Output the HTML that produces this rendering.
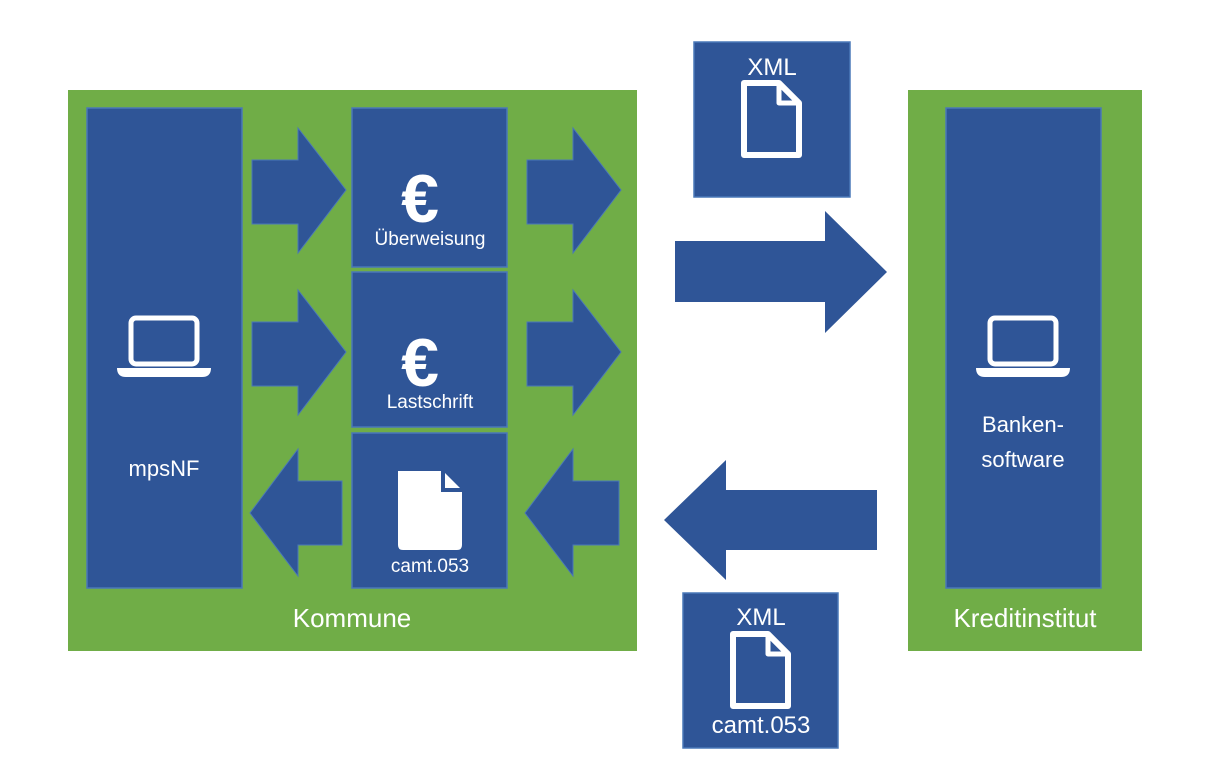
<!DOCTYPE html>
<html><head><meta charset="utf-8"><style>
html,body{margin:0;padding:0;background:#fff;}
svg{display:block;}
text{font-family:"Liberation Sans","DejaVu Sans",sans-serif;fill:#fff;}
</style></head><body>
<svg width="1220" height="778" viewBox="0 0 1220 778" xmlns="http://www.w3.org/2000/svg">
<defs>
<g id="doc"><path d="M-27,-36 H8 L28,-16 V36 H-27 Z" fill="none" stroke="#fff" stroke-width="6" stroke-linejoin="round"/><path d="M8,-36 V-16 H28" fill="none" stroke="#fff" stroke-width="5" stroke-linejoin="round"/></g>
<g id="laptop"><rect x="-33" y="-28" width="66" height="46" rx="5" fill="none" stroke="#fff" stroke-width="5"/><path d="M-47,22 H47 Q47,31 38,31 H-38 Q-47,31 -47,22 Z" fill="#fff"/></g>
</defs>
<rect x="68" y="90" width="569" height="561" fill="#70ad47"/>
<rect x="908" y="90" width="234" height="561" fill="#70ad47"/>
<g fill="#2f5597" stroke="#4a78b8" stroke-width="1.5">
<rect x="87" y="108" width="155" height="480"/>
<rect x="352" y="108" width="155" height="159"/>
<rect x="352" y="272" width="155" height="155"/>
<rect x="352" y="433" width="155" height="155"/>
<rect x="946" y="108" width="155" height="480"/>
<rect x="694" y="42" width="156" height="155"/>
<rect x="683" y="593" width="155" height="155"/>
</g>
<g fill="#2f5597" stroke="#4a78b8" stroke-width="1">
<path d="M252,160 H298 V128 L346,190 L298,253 V224 H252 Z"/>
<path d="M252,322 H298 V290 L346,352 L298,415 V386 H252 Z"/>
<path d="M527,160 H573 V128 L621,190 L573,253 V224 H527 Z"/>
<path d="M527,322 H573 V290 L621,352 L573,415 V386 H527 Z"/>
<path d="M342,481 H298 V449 L250,513 L298,576 V545 H342 Z"/>
<path d="M619,481 H573 V449 L525,513 L573,576 V545 H619 Z"/>
</g>
<path d="M675,241 H825 V211 L887,272 L825,333 V302 H675 Z" fill="#2f5597"/>
<path d="M877,490 H726 V460 L664,520 L726,580 V550 H877 Z" fill="#2f5597"/>
<use href="#laptop" transform="translate(164,346)"/>
<use href="#laptop" transform="translate(1023,346)"/>
<text x="164" y="476" font-size="22" text-anchor="middle">mpsNF</text>
<text x="1023" y="432" font-size="22" text-anchor="middle">Banken-</text>
<text x="1023" y="467" font-size="22" text-anchor="middle">software</text>
<text x="420" y="222" font-size="68" font-weight="bold" text-anchor="middle">€</text>
<text x="430" y="245" font-size="19" text-anchor="middle">Überweisung</text>
<text x="420" y="386" font-size="68" font-weight="bold" text-anchor="middle">€</text>
<text x="430" y="408" font-size="19" text-anchor="middle">Lastschrift</text>
<path d="M398,471 H443 L462,490 V545 Q462,550 457,550 H403 Q398,550 398,545 Z" fill="#fff"/>
<path d="M443,471 V490 H462" fill="none" stroke="#2f5597" stroke-width="4"/>
<text x="430" y="572" font-size="19" text-anchor="middle">camt.053</text>
<text x="772" y="75" font-size="24" text-anchor="middle">XML</text>
<use href="#doc" transform="translate(771,119)"/>
<text x="761" y="625" font-size="24" text-anchor="middle">XML</text>
<use href="#doc" transform="translate(760,670)"/>
<text x="761" y="733" font-size="24" text-anchor="middle">camt.053</text>
<text x="352" y="627" font-size="26" text-anchor="middle">Kommune</text>
<text x="1025" y="627" font-size="26" text-anchor="middle">Kreditinstitut</text>
</svg>
</body></html>
